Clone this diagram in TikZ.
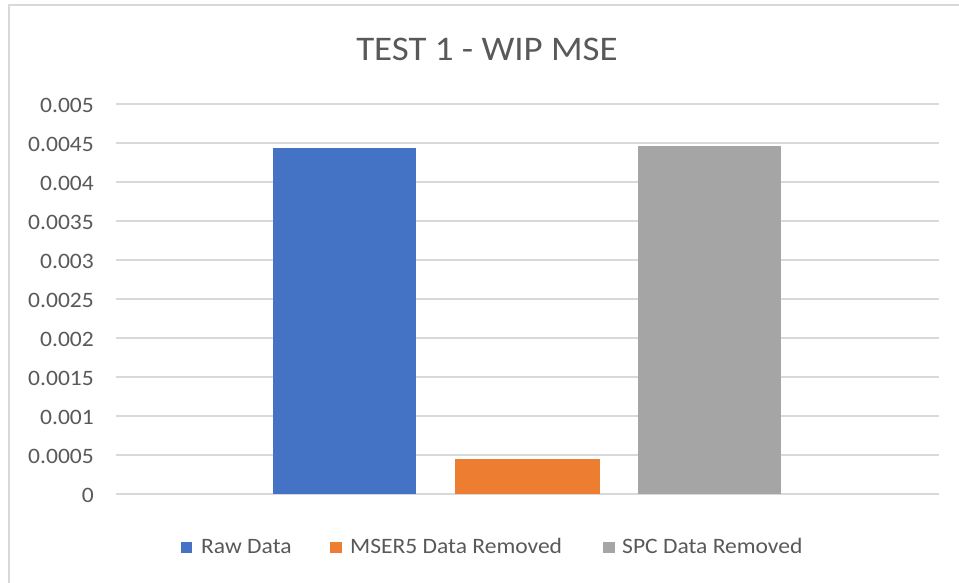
\documentclass[tikz,border=0pt]{standalone}
\usepackage{fontspec}
\setmainfont{Carlito}[FakeStretch=1.07]
\definecolor{gridc}{HTML}{D9D9D9}
\definecolor{txtc}{HTML}{595959}
\definecolor{bluec}{HTML}{4472C4}
\definecolor{orangec}{HTML}{ED7D31}
\definecolor{grayc}{HTML}{A5A5A5}
\begin{document}
\begin{tikzpicture}[x=1pt,y=-1pt,
  gridline/.style={draw=gridc,line width=1.5pt},
  ticklabel/.style={anchor=base east,inner sep=0pt,text=txtc,font=\fontsize{22}{24}\selectfont},
  legtext/.style={anchor=base west,inner sep=0pt,text=txtc,font=\fontsize{22}{24}\selectfont},
  legsq/.style={inner sep=0pt,minimum size=11.5pt},
  bar/.style={draw=none}]
\useasboundingbox (0,0) rectangle (959,582);
\clip (0,0) rectangle (959,582);
\fill[white] (0,0) rectangle (959,582);
\draw[draw=gridc,line width=1.5pt] (9,5) rectangle (975,600);
% title
\node[anchor=base,inner sep=0pt,text=txtc,font=\fontsize{34.5}{38}\selectfont] (title) at (487,60.7) {TEST 1 - WIP MSE};
% gridlines and tick labels
\foreach \k/\lab in {0/0,1/0.0005,2/0.001,3/0.0015,4/0.002,5/0.0025,6/0.003,7/0.0035,8/0.004,9/0.0045,10/0.005}{
  \draw[gridline] (116,494-39*\k) -- (939,494-39*\k);
  \node[ticklabel] (t\k) at (94,502-39*\k) {\lab};
}
% bars
\fill[bluec] (273,494) rectangle (416,147.7);
\fill[orangec] (455,494) rectangle (600,458.7);
\fill[grayc] (638,494) rectangle (781,146);
% legend
\node[legsq,fill=bluec] (lb) at (186.5,547.5) {};
\node[legtext] (lbt) at (201,553) {Raw Data};
\node[legsq,fill=orangec] (lo) at (336,547.5) {};
\node[legtext] (lot) at (350,553) {MSER5 Data Removed};
\node[legsq,fill=grayc] (lg) at (609,547.5) {};
\node[legtext] (lgt) at (622,553) {SPC Data Removed};
\end{tikzpicture}
\end{document}
